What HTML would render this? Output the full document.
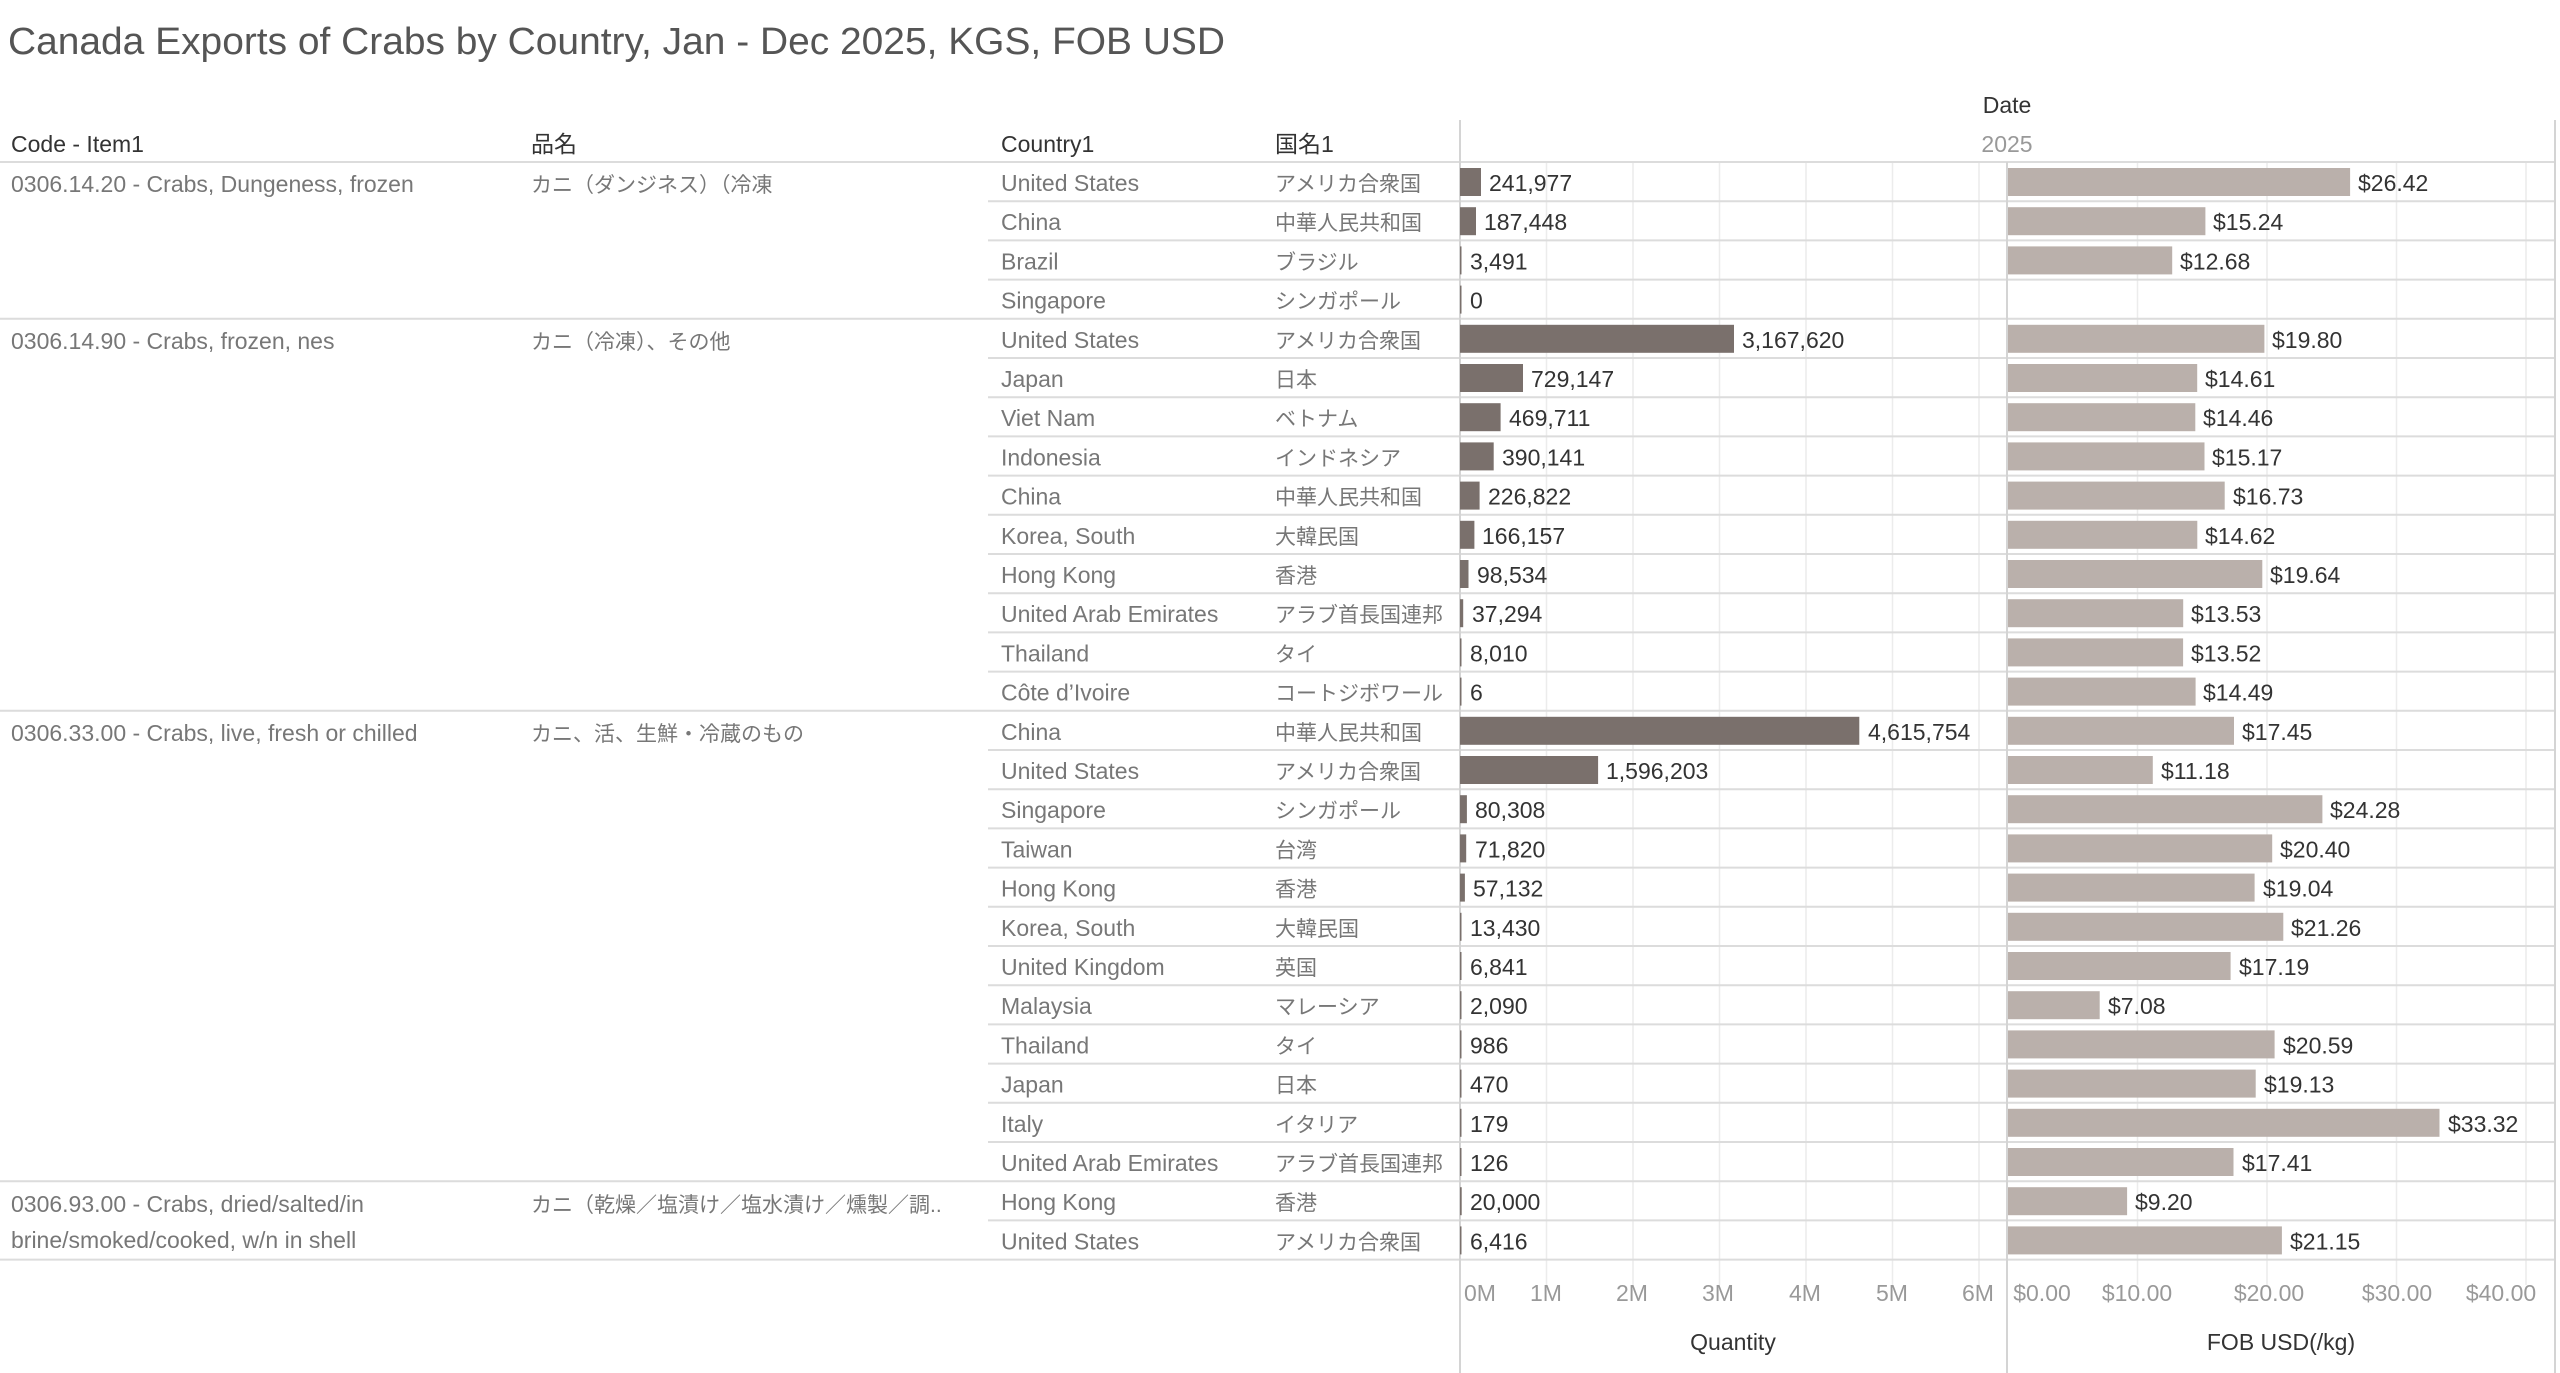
<!DOCTYPE html>
<html><head><meta charset="utf-8"><style>
html,body{margin:0;padding:0;background:#fff;}
svg{display:block;}
text{font-family:"Liberation Sans","Noto Sans CJK JP",sans-serif;}
.h{font-size:23px;fill:#333;}
.r{font-size:23px;fill:#777;}
.j{font-size:21px;fill:#777;}
.v{font-size:23px;fill:#333;}
.t{font-size:23px;fill:#999;}
</style></head><body>
<svg width="2560" height="1373" viewBox="0 0 2560 1373" xmlns="http://www.w3.org/2000/svg">
<text x="8" y="54" font-size="38" fill="#555" textLength="1217" lengthAdjust="spacingAndGlyphs">Canada Exports of Crabs by Country, Jan - Dec 2025, KGS, FOB USD</text>
<text class="h" x="2007" y="113" text-anchor="middle">Date</text>
<text class="t" x="2007" y="152" text-anchor="middle">2025</text>
<text class="h" x="11" y="152">Code - Item1</text>
<text class="h" x="531" y="152" font-size="21">品名</text>
<text class="h" x="1001" y="152">Country1</text>
<text class="h" x="1275" y="152" font-size="21">国名1</text>
<g stroke="#ececec" stroke-width="1.5">
<line x1="1546.5" y1="162" x2="1546.5" y2="1285"/><line x1="1633" y1="162" x2="1633" y2="1285"/><line x1="1719.5" y1="162" x2="1719.5" y2="1285"/><line x1="1806" y1="162" x2="1806" y2="1285"/><line x1="1892.5" y1="162" x2="1892.5" y2="1285"/><line x1="1979" y1="162" x2="1979" y2="1285"/>
<line x1="2137.5" y1="162" x2="2137.5" y2="1285"/><line x1="2267" y1="162" x2="2267" y2="1285"/><line x1="2396.5" y1="162" x2="2396.5" y2="1285"/><line x1="2526" y1="162" x2="2526" y2="1285"/>
</g>
<g stroke="#dcdcdc" stroke-width="2">
<line x1="988" y1="201.2" x2="2555" y2="201.2"/><line x1="988" y1="240.4" x2="2555" y2="240.4"/><line x1="988" y1="279.6" x2="2555" y2="279.6"/>
<line x1="988" y1="358" x2="2555" y2="358"/><line x1="988" y1="397.2" x2="2555" y2="397.2"/><line x1="988" y1="436.4" x2="2555" y2="436.4"/><line x1="988" y1="475.6" x2="2555" y2="475.6"/><line x1="988" y1="514.8" x2="2555" y2="514.8"/><line x1="988" y1="554" x2="2555" y2="554"/><line x1="988" y1="593.2" x2="2555" y2="593.2"/><line x1="988" y1="632.4" x2="2555" y2="632.4"/><line x1="988" y1="671.6" x2="2555" y2="671.6"/>
<line x1="988" y1="750" x2="2555" y2="750"/><line x1="988" y1="789.2" x2="2555" y2="789.2"/><line x1="988" y1="828.4" x2="2555" y2="828.4"/><line x1="988" y1="867.6" x2="2555" y2="867.6"/><line x1="988" y1="906.8" x2="2555" y2="906.8"/><line x1="988" y1="946" x2="2555" y2="946"/><line x1="988" y1="985.2" x2="2555" y2="985.2"/><line x1="988" y1="1024.4" x2="2555" y2="1024.4"/><line x1="988" y1="1063.6" x2="2555" y2="1063.6"/><line x1="988" y1="1102.8" x2="2555" y2="1102.8"/><line x1="988" y1="1142" x2="2555" y2="1142"/>
<line x1="988" y1="1220.4" x2="2555" y2="1220.4"/>
<line x1="0" y1="162" x2="2555" y2="162"/><line x1="0" y1="318.8" x2="2555" y2="318.8"/><line x1="0" y1="710.8" x2="2555" y2="710.8"/><line x1="0" y1="1181.2" x2="2555" y2="1181.2"/><line x1="0" y1="1259.6" x2="2555" y2="1259.6"/>
</g>
<g stroke="#d4d4d4" stroke-width="2">
<line x1="1460" y1="120" x2="1460" y2="1373"/><line x1="2007" y1="162" x2="2007" y2="1373"/><line x1="2555" y1="120" x2="2555" y2="1373"/>
</g>
<g fill="#7a706c">
<rect x="1460" y="168" width="21" height="28"/><rect x="1460" y="207.2" width="16" height="28"/><rect x="1460" y="246.4" width="1.5" height="28"/><rect x="1460" y="285.6" width="1.5" height="28"/>
<rect x="1460" y="324.8" width="274" height="28"/><rect x="1460" y="364" width="63" height="28"/><rect x="1460" y="403.2" width="40.6" height="28"/><rect x="1460" y="442.4" width="33.7" height="28"/><rect x="1460" y="481.6" width="19.6" height="28"/><rect x="1460" y="520.8" width="14.4" height="28"/><rect x="1460" y="560" width="8.5" height="28"/><rect x="1460" y="599.2" width="3.2" height="28"/><rect x="1460" y="638.4" width="1.5" height="28"/><rect x="1460" y="677.6" width="1.5" height="28"/>
<rect x="1460" y="716.8" width="399.3" height="28"/><rect x="1460" y="756" width="138.1" height="28"/><rect x="1460" y="795.2" width="6.9" height="28"/><rect x="1460" y="834.4" width="6.2" height="28"/><rect x="1460" y="873.6" width="4.9" height="28"/><rect x="1460" y="912.8" width="1.5" height="28"/><rect x="1460" y="952" width="1.5" height="28"/><rect x="1460" y="991.2" width="1.5" height="28"/><rect x="1460" y="1030.4" width="1.5" height="28"/><rect x="1460" y="1069.6" width="1.5" height="28"/><rect x="1460" y="1108.8" width="1.5" height="28"/><rect x="1460" y="1148" width="1.5" height="28"/>
<rect x="1460" y="1187.2" width="1.7" height="28"/><rect x="1460" y="1226.4" width="1.5" height="28"/>
</g>
<g fill="#bab0ab">
<rect x="2008" y="168" width="342.1" height="28"/><rect x="2008" y="207.2" width="197.4" height="28"/><rect x="2008" y="246.4" width="164.2" height="28"/>
<rect x="2008" y="324.8" width="256.4" height="28"/><rect x="2008" y="364" width="189.2" height="28"/><rect x="2008" y="403.2" width="187.3" height="28"/><rect x="2008" y="442.4" width="196.5" height="28"/><rect x="2008" y="481.6" width="216.7" height="28"/><rect x="2008" y="520.8" width="189.3" height="28"/><rect x="2008" y="560" width="254.3" height="28"/><rect x="2008" y="599.2" width="175.2" height="28"/><rect x="2008" y="638.4" width="175.1" height="28"/><rect x="2008" y="677.6" width="187.6" height="28"/>
<rect x="2008" y="716.8" width="226" height="28"/><rect x="2008" y="756" width="144.8" height="28"/><rect x="2008" y="795.2" width="314.4" height="28"/><rect x="2008" y="834.4" width="264.2" height="28"/><rect x="2008" y="873.6" width="246.6" height="28"/><rect x="2008" y="912.8" width="275.3" height="28"/><rect x="2008" y="952" width="222.6" height="28"/><rect x="2008" y="991.2" width="91.7" height="28"/><rect x="2008" y="1030.4" width="266.6" height="28"/><rect x="2008" y="1069.6" width="247.7" height="28"/><rect x="2008" y="1108.8" width="431.5" height="28"/><rect x="2008" y="1148" width="225.5" height="28"/>
<rect x="2008" y="1187.2" width="119.1" height="28"/><rect x="2008" y="1226.4" width="273.9" height="28"/>
</g>
<g transform="translate(0,2)">
<g class="r">
<text x="11" y="190">0306.14.20 - Crabs, Dungeness, frozen</text>
<text x="11" y="347">0306.14.90 - Crabs, frozen, nes</text>
<text x="11" y="739">0306.33.00 - Crabs, live, fresh or chilled</text>
<text x="11" y="1210">0306.93.00 - Crabs, dried/salted/in</text><text x="11" y="1246">brine/smoked/cooked, w/n in shell</text>
</g>
<g class="j">
<text x="531" y="190">カニ（ダンジネス）（冷凍</text>
<text x="531" y="347">カニ（冷凍）、その他</text>
<text x="531" y="739">カニ、活、生鮮・冷蔵のもの</text>
<text x="531" y="1210">カニ（乾燥／塩漬け／塩水漬け／燻製／調..</text>
</g>
<g class="r">
<text x="1001" y="189">United States</text>
<text x="1001" y="228.2">China</text>
<text x="1001" y="267.4">Brazil</text>
<text x="1001" y="306.6">Singapore</text>
<text x="1001" y="345.8">United States</text>
<text x="1001" y="385">Japan</text>
<text x="1001" y="424.2">Viet Nam</text>
<text x="1001" y="463.4">Indonesia</text>
<text x="1001" y="502.6">China</text>
<text x="1001" y="541.8">Korea, South</text>
<text x="1001" y="581">Hong Kong</text>
<text x="1001" y="620.2">United Arab Emirates</text>
<text x="1001" y="659.4">Thailand</text>
<text x="1001" y="698.6">Côte d’Ivoire</text>
<text x="1001" y="737.8">China</text>
<text x="1001" y="777">United States</text>
<text x="1001" y="816.2">Singapore</text>
<text x="1001" y="855.4">Taiwan</text>
<text x="1001" y="894.6">Hong Kong</text>
<text x="1001" y="933.8">Korea, South</text>
<text x="1001" y="973">United Kingdom</text>
<text x="1001" y="1012.2">Malaysia</text>
<text x="1001" y="1051.4">Thailand</text>
<text x="1001" y="1090.6">Japan</text>
<text x="1001" y="1129.8">Italy</text>
<text x="1001" y="1169">United Arab Emirates</text>
<text x="1001" y="1208.2">Hong Kong</text>
<text x="1001" y="1247.4">United States</text>
</g>
<g class="j">
<text x="1275" y="189">アメリカ合衆国</text>
<text x="1275" y="228.2">中華人民共和国</text>
<text x="1275" y="267.4">ブラジル</text>
<text x="1275" y="306.6">シンガポール</text>
<text x="1275" y="345.8">アメリカ合衆国</text>
<text x="1275" y="385">日本</text>
<text x="1275" y="424.2">ベトナム</text>
<text x="1275" y="463.4">インドネシア</text>
<text x="1275" y="502.6">中華人民共和国</text>
<text x="1275" y="541.8">大韓民国</text>
<text x="1275" y="581">香港</text>
<text x="1275" y="620.2">アラブ首長国連邦</text>
<text x="1275" y="659.4">タイ</text>
<text x="1275" y="698.6">コートジボワール</text>
<text x="1275" y="737.8">中華人民共和国</text>
<text x="1275" y="777">アメリカ合衆国</text>
<text x="1275" y="816.2">シンガポール</text>
<text x="1275" y="855.4">台湾</text>
<text x="1275" y="894.6">香港</text>
<text x="1275" y="933.8">大韓民国</text>
<text x="1275" y="973">英国</text>
<text x="1275" y="1012.2">マレーシア</text>
<text x="1275" y="1051.4">タイ</text>
<text x="1275" y="1090.6">日本</text>
<text x="1275" y="1129.8">イタリア</text>
<text x="1275" y="1169">アラブ首長国連邦</text>
<text x="1275" y="1208.2">香港</text>
<text x="1275" y="1247.4">アメリカ合衆国</text>
</g>
<g class="v">
<text x="1489" y="189">241,977</text><text x="1484" y="228.2">187,448</text><text x="1470" y="267.4">3,491</text><text x="1470" y="306.6">0</text>
<text x="1742" y="345.8">3,167,620</text><text x="1531" y="385">729,147</text><text x="1509" y="424.2">469,711</text><text x="1502" y="463.4">390,141</text><text x="1488" y="502.6">226,822</text><text x="1482" y="541.8">166,157</text><text x="1477" y="581">98,534</text><text x="1472" y="620.2">37,294</text><text x="1470" y="659.4">8,010</text><text x="1470" y="698.6">6</text>
<text x="1868" y="737.8">4,615,754</text><text x="1606" y="777">1,596,203</text><text x="1475" y="816.2">80,308</text><text x="1475" y="855.4">71,820</text><text x="1473" y="894.6">57,132</text><text x="1470" y="933.8">13,430</text><text x="1470" y="973">6,841</text><text x="1470" y="1012.2">2,090</text><text x="1470" y="1051.4">986</text><text x="1470" y="1090.6">470</text><text x="1470" y="1129.8">179</text><text x="1470" y="1169">126</text>
<text x="1470" y="1208.2">20,000</text><text x="1470" y="1247.4">6,416</text>
<text x="2358" y="189">$26.42</text><text x="2213" y="228.2">$15.24</text><text x="2180" y="267.4">$12.68</text>
<text x="2272" y="345.8">$19.80</text><text x="2205" y="385">$14.61</text><text x="2203" y="424.2">$14.46</text><text x="2212" y="463.4">$15.17</text><text x="2233" y="502.6">$16.73</text><text x="2205" y="541.8">$14.62</text><text x="2270" y="581">$19.64</text><text x="2191" y="620.2">$13.53</text><text x="2191" y="659.4">$13.52</text><text x="2203" y="698.6">$14.49</text>
<text x="2242" y="737.8">$17.45</text><text x="2161" y="777">$11.18</text><text x="2330" y="816.2">$24.28</text><text x="2280" y="855.4">$20.40</text><text x="2263" y="894.6">$19.04</text><text x="2291" y="933.8">$21.26</text><text x="2239" y="973">$17.19</text><text x="2108" y="1012.2">$7.08</text><text x="2283" y="1051.4">$20.59</text><text x="2264" y="1090.6">$19.13</text><text x="2448" y="1129.8">$33.32</text><text x="2242" y="1169">$17.41</text>
<text x="2135" y="1208.2">$9.20</text><text x="2290" y="1247.4">$21.15</text>
</g>
</g>
<g class="t" text-anchor="middle">
<text x="1480" y="1301">0M</text><text x="1546" y="1301">1M</text><text x="1632" y="1301">2M</text><text x="1718" y="1301">3M</text><text x="1805" y="1301">4M</text><text x="1892" y="1301">5M</text><text x="1978" y="1301">6M</text>
<text x="2042" y="1301">$0.00</text><text x="2137" y="1301">$10.00</text><text x="2269" y="1301">$20.00</text><text x="2397" y="1301">$30.00</text><text x="2501" y="1301">$40.00</text>
</g>
<text class="h" x="1733" y="1350" text-anchor="middle">Quantity</text>
<text class="h" x="2281" y="1350" text-anchor="middle">FOB USD(/kg)</text>
</svg>
</body></html>
